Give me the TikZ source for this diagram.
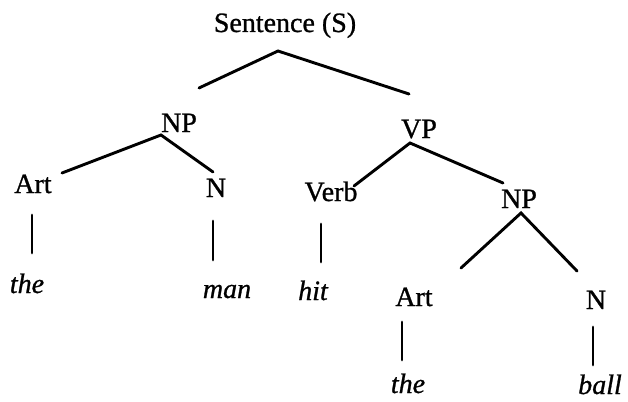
\documentclass[tikz,border=0pt]{standalone}
\usepackage{fontspec}
\setmainfont{Liberation Serif}[FakeBold=0.9]
\usetikzlibrary{calc}
\begin{document}
\begin{tikzpicture}[x=1pt,y=-1pt,
  lbl/.style={anchor=base,inner sep=0pt,font=\fontsize{28}{32}\selectfont},
  wrd/.style={anchor=base,inner sep=0pt,font=\fontsize{28}{32}\selectfont\itshape},
  br/.style={line width=2.9pt,line cap=round}]
\fill[white] (0,0) rectangle (628,401);
\useasboundingbox (0,0) rectangle (628,401);
% nodes
\node[lbl] (S) at (285,32) {Sentence (S)};
\node[lbl] (NPa) at (179,132) {NP};
\node[lbl] (VP) at (419,138) {VP};
\node[lbl] (ArtA) at (33,193) {Art};
\node[lbl] (NA) at (216,197) {N};
\node[lbl] (Verb) at (331,201) {Verb};
\node[lbl] (NPb) at (519,208) {NP};
\node[lbl] (ArtB) at (414,306) {Art};
\node[lbl] (NB) at (596,309) {N};
\node[wrd] (theA) at (27,293) {the};
\node[wrd] (man) at (227,298) {man};
\node[wrd] (hit) at (313,300) {hit};
\node[wrd] (theB) at (408,393) {the};
\node[wrd] (ball) at (600,394) {ball};
% branches
\draw[br] ($(NPa.base)+(20,-44)$) -- ($(S.base)+(-7,19)$) -- ($(VP.base)+(-10,-44)$);
\draw[br] ($(ArtA.base)+(29,-20)$) -- ($(NPa.base)+(-18,3)$) -- ($(NA.base)+(-3,-25)$);
\draw[br] ($(Verb.base)+(23,-15)$) -- ($(VP.base)+(-9,5)$) -- ($(NPb.base)+(-16,-25)$);
\draw[br] ($(ArtB.base)+(47,-38)$) -- ($(NPb.base)+(2,5)$) -- ($(NB.base)+(-19,-38)$);
\draw[br] ($(ArtA.base)+(-1,22)$) -- ($(theA.base)+(5,-40)$);
\draw[br] ($(NA.base)+(-3,24)$) -- ($(man.base)+(-14,-38)$);
\draw[br] ($(Verb.base)+(-10,23)$) -- ($(hit.base)+(8,-38)$);
\draw[br] ($(ArtB.base)+(-12,16)$) -- ($(theB.base)+(-6,-33)$);
\draw[br] ($(NB.base)+(-3,18)$) -- ($(ball.base)+(-7,-29)$);
\end{tikzpicture}
\end{document}
